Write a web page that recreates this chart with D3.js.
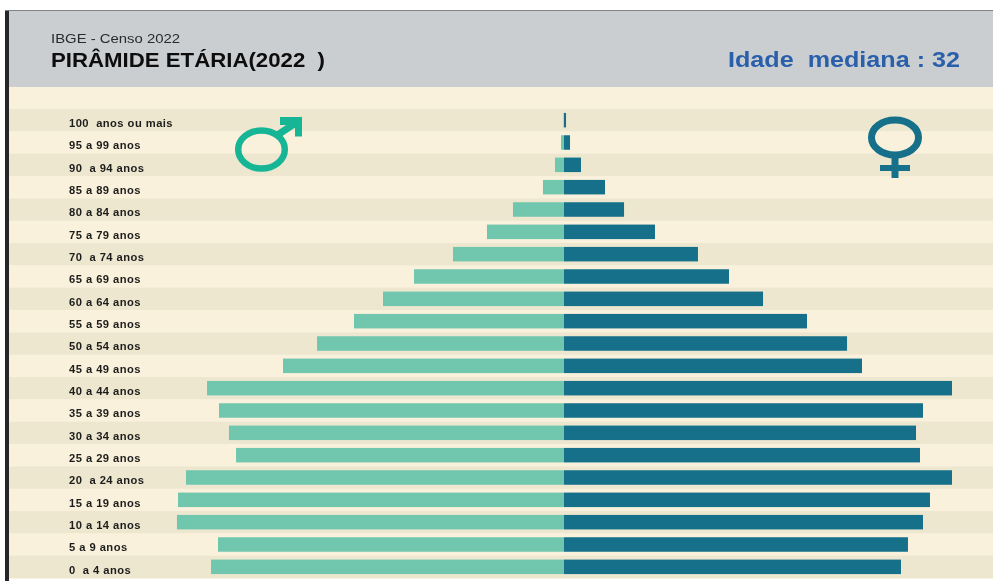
<!DOCTYPE html>
<html><head><meta charset="utf-8">
<script src="https://cdn.jsdelivr.net/npm/d3@7"></script>
<style>html,body{margin:0;padding:0;background:#fff;overflow:hidden}svg{display:block;font-family:"Liberation Sans",Arial,sans-serif}
.age text{white-space:pre}</style></head><body><div id="c"></div>
<script>
const ageLabels=["100  anos ou mais","95 a 99 anos","90  a 94 anos","85 a 89 anos","80 a 84 anos","75 a 79 anos","70  a 74 anos","65 a 69 anos","60 a 64 anos","55 a 59 anos","50 a 54 anos","45 a 49 anos","40 a 44 anos","35 a 39 anos","30 a 34 anos","25 a 29 anos","20  a 24 anos","15 a 19 anos","10 a 14 anos","5 a 9 anos","0  a 4 anos"];
const maleValues=[5,31,93,217,526,794,1144,1546,1866,2165,2546,2897,3680,3557,3454,3381,3897,3979,3990,3567,3639];
const femaleValues=[21,62,175,423,619,938,1381,1701,2052,2505,2918,3072,4000,3701,3629,3670,4000,3773,3701,3546,3474];
const subtitle="IBGE - Censo 2022", title="PIRÂMIDE ETÁRIA(2022  )", medianText="Idade  mediana : 32";
const W=993,H=581,cx=564,left=8;
const svg=d3.select("#c").append("svg").attr("width",W).attr("height",H);
const defs=svg.append("defs");
defs.append("filter").attr("id","soft").append("feGaussianBlur").attr("stdDeviation",0.4);
const g=svg.append("g").attr("filter","url(#soft)");
g.append("rect").attr("x",5).attr("y",10).attr("width",4).attr("height",571).attr("fill","#262626");
g.append("rect").attr("x",left+1).attr("y",10).attr("width",W-left).attr("height",77).attr("fill","#cbced1");
g.append("rect").attr("x",5).attr("y",10).attr("width",W-5).attr("height",1).attr("fill","#808285");
g.append("rect").attr("x",left+1).attr("y",87).attr("width",W-left).attr("height",22).attr("fill","#f9f1dc");
const y=d3.scaleBand().domain(ageLabels).range([109,578]).paddingInner(0);
g.append("g").selectAll("rect").data(ageLabels).join("rect")
 .attr("x",left+1).attr("width",W-left).attr("y",d=>y(d)).attr("height",y.bandwidth()+.5)
 .attr("fill",(d,i)=>i%2?"#f9f1dc":"#ede7d0");
const x=d3.scaleLinear().domain([0,4000]).range([0,388]);
const barH=14.5;
const by=d=>y(d)+(y.bandwidth()-barH)/2;
g.append("g").selectAll("rect").data(ageLabels).join("rect")
 .attr("x",(d,i)=>cx-x(maleValues[i])).attr("width",(d,i)=>x(maleValues[i])).attr("y",by).attr("height",barH).attr("fill","#71c7ae");
g.append("g").selectAll("rect").data(ageLabels).join("rect")
 .attr("x",cx).attr("width",(d,i)=>x(femaleValues[i])).attr("y",by).attr("height",barH).attr("fill","#12708a");
const ax=g.append("g").attr("class","age").attr("transform","translate(69,0)").call(d3.axisLeft(y).tickSize(0));
ax.select(".domain").remove();
ax.selectAll("text").attr("x",0).attr("dy",null).attr("y",4).attr("dominant-baseline","middle").attr("text-anchor","start")
 .attr("font-family","'Liberation Sans',Arial,sans-serif").attr("font-size",11.2).attr("font-weight",700).attr("letter-spacing",.45).attr("fill","#1d1d1b");
g.append("text").attr("x",51).attr("y",43).attr("font-size",13.2).attr("fill","#2a2a2a").attr("textLength",129).attr("lengthAdjust","spacingAndGlyphs").text(subtitle);
g.append("text").attr("x",51).attr("y",67).attr("font-size",20).attr("font-weight",700).attr("fill","#0c0c0c").style("white-space","pre").attr("textLength",274).attr("lengthAdjust","spacingAndGlyphs").text(title);
g.append("text").attr("x",728).attr("y",67).attr("font-size",22).attr("font-weight",700).attr("fill","#2b5faa").style("white-space","pre").attr("textLength",232).attr("lengthAdjust","spacingAndGlyphs").text(medianText);
// male symbol
const m=g.append("g").attr("fill","none").attr("stroke","#19b596");
m.append("ellipse").attr("cx",261.5).attr("cy",149.5).attr("rx",23.3).attr("ry",19).attr("stroke-width",6.5);
m.append("line").attr("x1",276).attr("y1",136).attr("x2",297).attr("y2",122).attr("stroke-width",7);
g.append("path").attr("d","M280 117H302V136.5H295V125H280Z").attr("fill","#19b596");
// female symbol
const f=g.append("g").attr("stroke","#12708a");
f.append("ellipse").attr("cx",895).attr("cy",137.5).attr("rx",23.5).attr("ry",17.5).attr("fill","none").attr("stroke-width",7);
f.append("line").attr("x1",895).attr("y1",156).attr("x2",895).attr("y2",178).attr("stroke-width",7);
f.append("line").attr("x1",880).attr("y1",168).attr("x2",910).attr("y2",168).attr("stroke-width",6);
</script></body></html>
